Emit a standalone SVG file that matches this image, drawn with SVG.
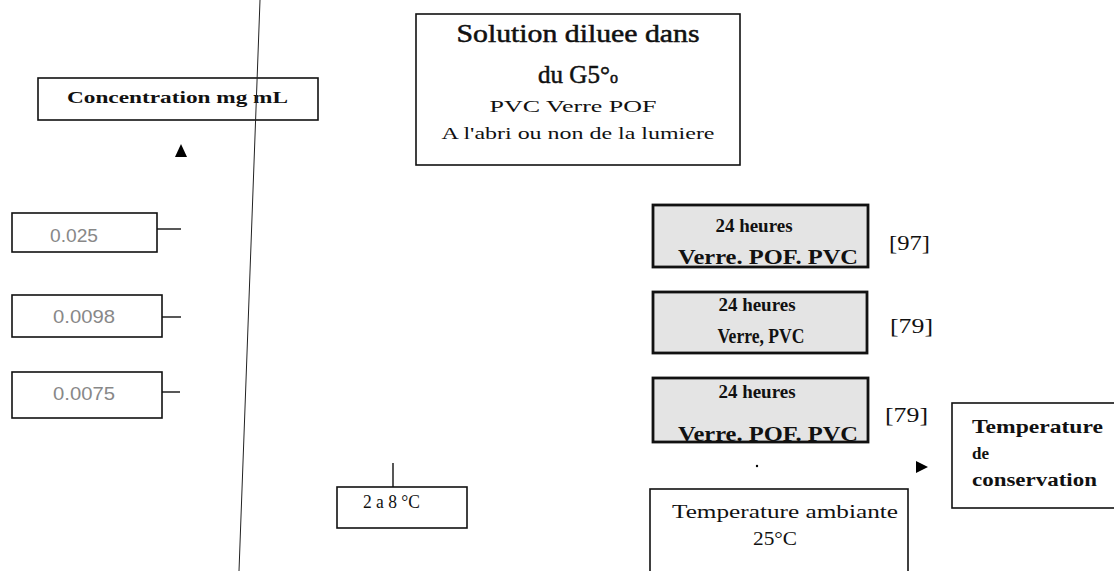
<svg xmlns="http://www.w3.org/2000/svg" width="1114" height="571" viewBox="0 0 1114 571">
<style>
.box{fill:#fff;stroke:#111;stroke-width:1.6}
.gbox{fill:#e4e4e4;stroke:#111;stroke-width:2.8}
.serif{font-family:"Liberation Serif","Times New Roman",serif;fill:#111}
.sans{font-family:"Liberation Sans",Arial,sans-serif;fill:#888}
.b{font-weight:bold}
.heavy{stroke:#111;stroke-width:0.5}
.ln{stroke:#111;stroke-width:1.4;fill:none}
.arr{fill:#000}
</style>
<rect width="1114" height="571" fill="#fff"/>
<g id="solution">
<rect class="box" x="416" y="14" width="324" height="151"/>
<text class="serif heavy" x="578" y="42" font-size="25" text-anchor="middle" textLength="243" lengthAdjust="spacingAndGlyphs">Solution diluee dans</text>
<text class="serif heavy" x="578" y="83" font-size="25" text-anchor="middle">du G5°<tspan font-size="16">o</tspan></text>
<text class="serif" x="573" y="112" font-size="17" text-anchor="middle" textLength="167" lengthAdjust="spacingAndGlyphs">PVC  Verre  POF</text>
<text class="serif" x="578" y="139" font-size="16" text-anchor="middle" textLength="273" lengthAdjust="spacingAndGlyphs">A l'abri ou non de la lumiere</text>
</g>
<g id="concentration">
<rect class="box" x="38" y="78" width="280" height="42"/>
<text class="serif b" x="67" y="103" font-size="17" textLength="221" lengthAdjust="spacingAndGlyphs">Concentration mg  mL</text>
</g>
<g id="c1">
<rect class="box" x="12" y="213" width="145" height="39"/>
<text class="sans" x="50" y="242" font-size="19" textLength="48" lengthAdjust="spacingAndGlyphs">0.025</text>
</g>
<g id="c2">
<rect class="box" x="12" y="295" width="150" height="42"/>
<text class="sans" x="53" y="323" font-size="19" textLength="62" lengthAdjust="spacingAndGlyphs">0.0098</text>
</g>
<g id="c3">
<rect class="box" x="12" y="372" width="150" height="46"/>
<text class="sans" x="53" y="400" font-size="19" textLength="62" lengthAdjust="spacingAndGlyphs">0.0075</text>
</g>
<g id="r1">
<rect class="gbox" x="653" y="205" width="215" height="62"/>
<text class="serif b" x="754" y="232" font-size="18" text-anchor="middle" textLength="77" lengthAdjust="spacingAndGlyphs">24 heures</text>
<text class="serif b" x="768" y="264" font-size="20" text-anchor="middle" textLength="180" lengthAdjust="spacingAndGlyphs">Verre. POF. PVC</text>
</g>
<text id="ref1" class="serif" x="889" y="250" font-size="22" textLength="41" lengthAdjust="spacingAndGlyphs">[97]</text>
<g id="r2">
<rect class="gbox" x="653" y="292" width="214" height="61"/>
<text class="serif b" x="757" y="311" font-size="18" text-anchor="middle" textLength="77" lengthAdjust="spacingAndGlyphs">24 heures</text>
<text class="serif b" x="761" y="343" font-size="21" text-anchor="middle" textLength="87" lengthAdjust="spacingAndGlyphs">Verre, PVC</text>
</g>
<text id="ref2" class="serif" x="890" y="333" font-size="22" textLength="43" lengthAdjust="spacingAndGlyphs">[79]</text>
<g id="r3">
<rect class="gbox" x="653" y="378" width="215" height="64"/>
<text class="serif b" x="757" y="398" font-size="18" text-anchor="middle" textLength="77" lengthAdjust="spacingAndGlyphs">24 heures</text>
<text class="serif b" x="768" y="441" font-size="20" text-anchor="middle" textLength="180" lengthAdjust="spacingAndGlyphs">Verre. POF. PVC</text>
</g>
<text id="ref3" class="serif" x="885" y="422" font-size="22" textLength="43" lengthAdjust="spacingAndGlyphs">[79]</text>
<g id="conservation">
<rect class="box" x="952" y="403" width="170" height="105"/>
<text class="serif b" x="972" y="433" font-size="19" textLength="131" lengthAdjust="spacingAndGlyphs">Temperature</text>
<text class="serif b" x="972" y="459" font-size="17">de</text>
<text class="serif b" x="972" y="486" font-size="18" textLength="125" lengthAdjust="spacingAndGlyphs">conservation</text>
</g>
<g id="froid">
<rect class="box" x="337" y="487" width="130" height="41"/>
<text class="serif" x="363" y="508" font-size="18" textLength="57" lengthAdjust="spacingAndGlyphs">2 a 8 °C</text>
</g>
<g id="ambiante">
<rect class="box" x="650" y="489" width="258" height="100"/>
<text class="serif" x="672" y="518" font-size="18" textLength="226" lengthAdjust="spacingAndGlyphs">Temperature ambiante</text>
<text class="serif" x="775" y="545" font-size="18" text-anchor="middle" textLength="44" lengthAdjust="spacingAndGlyphs">25°C</text>
</g>
<g id="connectors">
<line x1="260" y1="0" x2="239" y2="571" stroke="#222" stroke-width="1"/>
<polygon class="arr" points="181,144 175,157 187,157"/>
<line class="ln" x1="157" y1="229" x2="181" y2="229"/>
<line class="ln" x1="162" y1="317" x2="181" y2="317"/>
<line class="ln" x1="162" y1="392" x2="180" y2="392"/>
<line class="ln" x1="393" y1="463" x2="393" y2="487"/>
<polygon class="arr" points="916,461 928,467 916,473"/>
<circle cx="757" cy="466" r="1.2" fill="#000"/>
</g>
</svg>
